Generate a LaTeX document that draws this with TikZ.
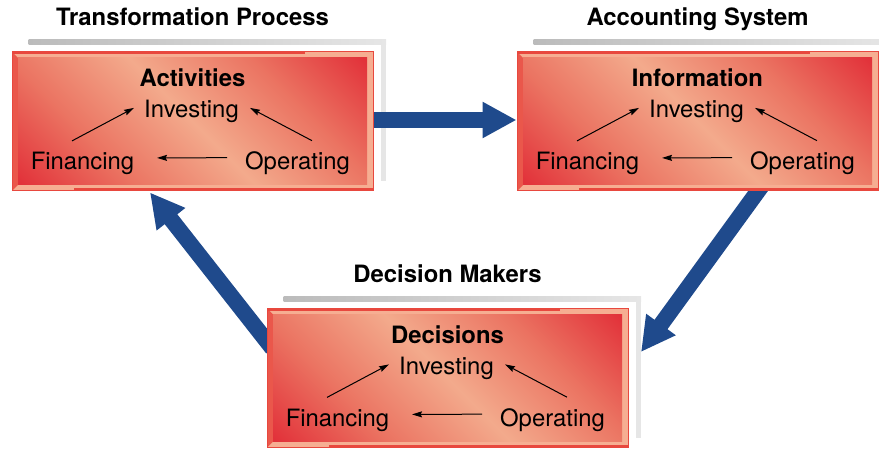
\documentclass[tikz,border=0pt]{standalone}
\usepackage{fontspec}
\setmainfont{TeX Gyre Heros}
\usetikzlibrary{arrows.meta,calc,backgrounds}
\definecolor{panelred}{HTML}{E2323A}
\definecolor{panelmid}{HTML}{EB7462}
\definecolor{panellight}{HTML}{F3AA8C}
\definecolor{rimsalmon}{HTML}{F6AE92}
\definecolor{rimred}{HTML}{E8483E}
\definecolor{shadowgrey}{HTML}{BBBBBB}
\definecolor{shadowlight}{HTML}{E6E6E6}
\definecolor{flowblue}{HTML}{1F4A8C}
\pgfdeclarehorizontalshading{panelshade}{100bp}{color(0bp)=(panelred);
  color(15bp)=(panelred); color(32bp)=(panelmid); color(50bp)=(panellight);
  color(68bp)=(panelmid); color(85bp)=(panelred); color(100bp)=(panelred)}

\begin{document}
\begin{tikzpicture}[
  x=0.75pt,
  y=-0.75pt,
  word/.style={font=\fontsize{17.9pt}{21pt}\selectfont, text=black,
               anchor=base, inner sep=0pt},
  boldword/.style={word, font=\fontsize{17.9pt}{21pt}\selectfont\bfseries},
  panel/.style={draw=rimred, line width=0.75pt, fill=rimsalmon,
    minimum width=270.75pt, minimum height=104.25pt, inner sep=0pt,
    path picture={
      \fill[rimred!85!rimsalmon] (path picture bounding box.north west)
        -- ++(6,6) -- ($(path picture bounding box.south west)+(6,-6)$)
        -- (path picture bounding box.south west) -- cycle;
      \fill[rimred] (path picture bounding box.north west)
        rectangle ($(path picture bounding box.north east)+(-68,2.5)$);
      \fill[rimred] ($(path picture bounding box.south west)+(62,-2.5)$)
        rectangle (path picture bounding box.south east);
      \shade[shading=panelshade, shading angle=45]
        ($(path picture bounding box.north west)+(6,6)$)
        rectangle ($(path picture bounding box.south east)+(-6,-6)$);
    }},
  flow/.style={black, line width=0.75pt,
               -{Stealth[length=7.5pt, width=4.5pt, inset=1pt]}},
  bigflow/.style={flowblue, line width=12pt,
                  -{Triangle[length=25.5pt, width=25.5pt]}},
  shadowline/.style={left color=shadowgrey, right color=shadowlight}
]
  \useasboundingbox (0,0) rectangle (879,449);

  % ---- the three panels with their headings and cycles ----
  \foreach \pan/\cx/\cy/\head/\word in {
      actbox/192.5/121.5/Transformation Process/Activities,
      infobox/697.5/121.5/Accounting System/Information,
      decbox/447.5/378/Decision Makers/Decisions}
  {
    \node[panel] (\pan) at (\cx,\cy) {};
    \node[boldword] (\pan-head)  at ($(\pan)+(0,-95.5)$) {\head};
    \node[boldword] (\pan-title) at ($(\pan)+(0,-34.5)$) {\word};
    \node[word] (\pan-inv) at ($(\pan)+(-1,-3.5)$)  {Investing};
    \node[word] (\pan-fin) at ($(\pan)+(-110,48.5)$) {Financing};
    \node[word] (\pan-op)  at ($(\pan)+(105,48.5)$)  {Operating};
    \draw[flow] ($(\pan-fin)+(-10.5,-23)$) -- ($(\pan-inv)+(-57.5,-4)$);
    \draw[flow] ($(\pan-op)+(14.5,-23)$)   -- ($(\pan-inv)+(58.5,-4)$);
    \draw[flow] ($(\pan-op)+(-70.5,-6)$)   -- ($(\pan-fin)+(74.5,-6)$);
  }

  \begin{scope}[on background layer]
    % ---- grey shadow edges behind each panel ----
    \foreach \pan in {actbox, infobox, decbox} {
      \shade[shadowline] ($(\pan.north west)+(17,-11.5)$)
        rectangle ($(\pan.north east)+(12.5,-6.5)$);
      \fill[shadowlight] ($(\pan.north east)+(7.5,-6.5)$)
        rectangle ($(\pan.south east)+(12.5,-10)$);
    }

    % ---- the blue arrows of the cycle ----
    \draw[bigflow] ($(actbox.east)+(-4,-1.5)$) -- ($(infobox.west)+(0,-1.5)$);
    \draw[bigflow] ($(infobox.south)+(66,-8)$) -- ($(decbox.east)+(12.5,-26)$);
    \draw[bigflow] ($(decbox.west)+(6,-29.5)$) -- ($(actbox.south)+(-42.5,1)$);
  \end{scope}
\end{tikzpicture}
\end{document}
